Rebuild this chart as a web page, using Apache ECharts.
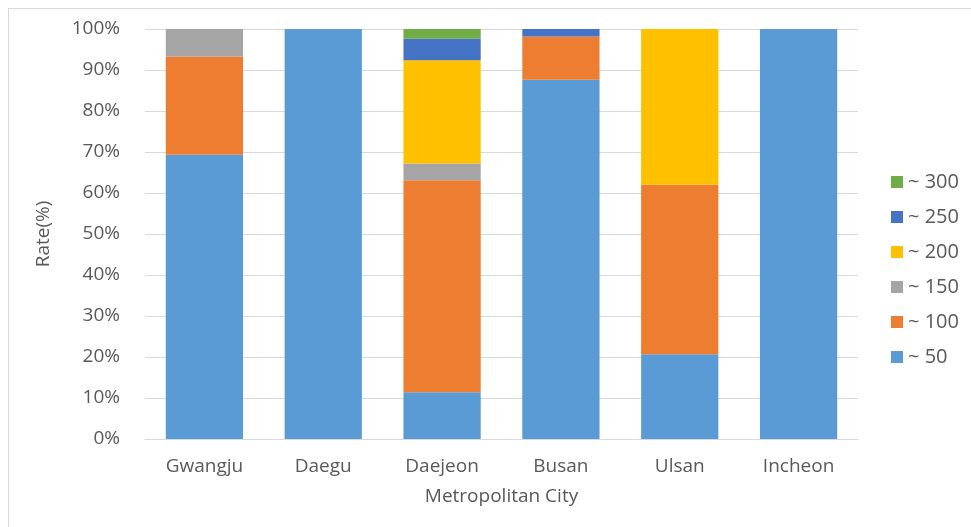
<!DOCTYPE html>
<html>
<head>
<meta charset="utf-8">
<script src="https://cdn.jsdelivr.net/npm/echarts@6/dist/echarts.min.js"></script>
<style>
  html, body { margin: 0; padding: 0; background: #fff; }
  #main { width: 971px; height: 527px; }
</style>
</head>
<body>
<div id="main"></div>
<script>
var cities = ['Gwangju', 'Daegu', 'Daejeon', 'Busan', 'Ulsan', 'Incheon'];
var groups = ['~ 50', '~ 100', '~ 150', '~ 200', '~ 250', '~ 300'];
var colors = ['#5b9bd5', '#ed7d31', '#a5a5a5', '#ffc000', '#4472c4', '#70ad47'];

var under50  = [69.3, 100, 11.4, 87.6, 20.7, 100];
var under100 = [24.0, 0, 51.7, 10.6, 41.3, 0];
var under150 = [6.7, 0, 4.1, 0, 0, 0];
var under200 = [0, 0, 25.2, 0, 38.0, 0];
var under250 = [0, 0, 5.2, 1.8, 0, 0];
var under300 = [0, 0, 2.4, 0, 0, 0];
var yTicks = [0, 10, 20, 30, 40, 50, 60, 70, 80, 90, 100];

var values = [under50, under100, under150, under200, under250, under300];
var font = 'Open Sans';

var myChart = echarts.init(document.getElementById('main'));
var option = {
    backgroundColor: '#fff',
    animation: false,
    textStyle: { fontFamily: font },
    graphic: [
        { type: 'line', shape: { x1: 8, y1: 8.5, x2: 971, y2: 8.5 }, style: { stroke: '#d9d9d9', lineWidth: 1 } },
        { type: 'line', shape: { x1: 8.5, y1: 8, x2: 8.5, y2: 527 }, style: { stroke: '#d9d9d9', lineWidth: 1 } }
    ],
    grid: { left: 145, right: 113, top: 29, bottom: 88 },
    legend: {
        orient: 'vertical',
        left: 886,
        top: 165,
        itemWidth: 12,
        itemHeight: 12,
        itemGap: 11,
        icon: 'rect',
        data: groups.slice().reverse(),
        textStyle: { color: '#595959', fontSize: 20, fontFamily: font, lineHeight: 24 }
    },
    xAxis: {
        type: 'category',
        data: cities,
        name: 'Metropolitan City',
        nameLocation: 'middle',
        nameGap: 48,
        nameTextStyle: { color: '#595959', fontSize: 19, fontFamily: font },
        axisLine: { lineStyle: { color: '#d9d9d9' } },
        axisTick: { show: false },
        axisLabel: { color: '#595959', fontSize: 19, margin: 18, fontFamily: font }
    },
    yAxis: {
        type: 'value',
        min: 0,
        max: 100,
        interval: yTicks[1] - yTicks[0],
        name: 'Rate(%)',
        nameLocation: 'middle',
        nameGap: 92,
        nameTextStyle: { color: '#595959', fontSize: 19, fontFamily: font },
        axisLine: { show: false },
        axisTick: { show: false },
        axisLabel: { color: '#595959', fontSize: 19, margin: 25, fontFamily: font, formatter: '{value}%' },
        splitLine: { lineStyle: { color: '#d9d9d9', width: 1 } }
    },
    series: groups.map(function (g, i) {
        return {
            name: g,
            type: 'bar',
            stack: 'total',
            barWidth: '65%',
            itemStyle: { color: colors[i] },
            data: values[i]
        };
    })
};
myChart.setOption(option);
</script>
</body>
</html>
